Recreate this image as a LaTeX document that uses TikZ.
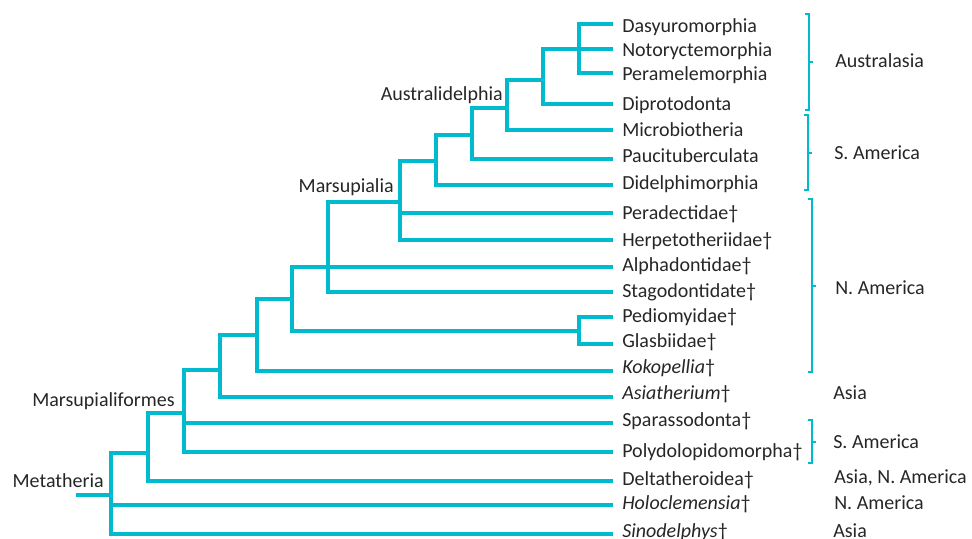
\documentclass[tikz,border=0pt]{standalone}
\usepackage{fontspec}
\setmainfont{Carlito}
\definecolor{tree}{RGB}{0,186,206}
\definecolor{txt}{RGB}{38,38,38}
\begin{document}
\begin{tikzpicture}[x=0.75pt,y=-0.75pt,
  branch/.style={draw=tree,line width=2.3pt,line join=miter},
  brk/.style={draw=tree,line width=1pt},
  leaf/.style={anchor=base west,inner sep=0pt,text=txt,font=\fontsize{15}{18}\selectfont},
  clade/.style={anchor=base east,inner sep=0pt,text=txt,font=\fontsize{15}{18}\selectfont},
  region/.style={anchor=base west,inner sep=0pt,text=txt,font=\fontsize{15}{18}\selectfont}]
\useasboundingbox (0,0) rectangle (972,539);
% leaves
\foreach \n/\ly/\by/\t in {
  dasy/24/32/Dasyuromorphia,
  noto/49/56/Notoryctemorphia,
  pera/73/80/Peramelemorphia,
  dipr/104/110/Diprotodonta,
  micr/130/136/Microbiotheria,
  pauc/159/162/Paucituberculata,
  dide/185/189/Didelphimorphia,
  perd/213/219/Peradectidae†,
  herp/240/246/Herpetotheriidae†,
  alph/267/271/Alphadontidae†,
  stag/292/297/Stagodontidate†,
  pedi/317/322/Pediomyidae†,
  glas/344/347/Glasbiidae†,
  koko/371/373/\textit{Kokopellia}†,
  asia/397/399/\textit{Asiatherium}†,
  spar/423/426/Sparassodonta†,
  poly/452/457/Polydolopidomorpha†,
  delt/481/485/Deltatheroidea†,
  holo/505/509/\textit{Holoclemensia}†,
  sino/534/537/\textit{Sinodelphys}†}{
  \coordinate (\n-tip) at (613,\ly);
  \node[leaf] (\n) at (622,\by) {\t};
}
% internal nodes
\coordinate (A) at (579,49);
\coordinate (B) at (543,80);
\coordinate (C) at (507,108);
\coordinate (D) at (472,135);
\coordinate (E) at (436,161);
\coordinate (F) at (400,202);
\coordinate (G) at (328,267);
\coordinate (H) at (292,299);
\coordinate (PG) at (579,331);
\coordinate (I) at (257,335);
\coordinate (J) at (220,370);
\coordinate (K) at (184,413);
\coordinate (L) at (148,453);
\coordinate (M) at (111,495);
\coordinate (root) at (76,495);
% branches
\draw[branch] (A) |- (dasy-tip) (A) |- (noto-tip) (A) |- (pera-tip);
\draw[branch] (B) |- (A) (B) |- (dipr-tip);
\draw[branch] (C) |- (B) (C) |- (micr-tip);
\draw[branch] (D) |- (C) (D) |- (pauc-tip);
\draw[branch] (E) |- (D) (E) |- (dide-tip);
\draw[branch] (F) |- (E) (F) |- (perd-tip) (F) |- (herp-tip);
\draw[branch] (G) |- (F) (G) |- (stag-tip);
\draw[branch] (H) |- (alph-tip) (H) |- (PG);
\draw[branch] (PG) |- (pedi-tip) (PG) |- (glas-tip);
\draw[branch] (I) |- (H) (I) |- (koko-tip);
\draw[branch] (J) |- (I) (J) |- (asia-tip);
\draw[branch] (K) |- (J) (K) |- (spar-tip) (K) |- (poly-tip);
\draw[branch] (L) |- (K) (L) |- (delt-tip);
\draw[branch] (M) |- (L) (M) |- (holo-tip) (M) |- (sino-tip);
\draw[branch] (root) -- (M);
% clade labels
\node[clade] (australidelphia) at (503,100) {Australidelphia};
\node[clade] (marsupialia) at (394,192) {Marsupialia};
\node[clade] (marsupialiformes) at (175,406) {Marsupialiformes};
\node[clade] (metatheria) at (104,487) {Metatheria};
% brackets
\draw[brk] (805,14) -- (809,14) -- (809,110) -- (805,110);
\draw[brk] (809,62) -- (813,62);
\draw[brk] (804,115) -- (808,115) -- (808,190) -- (804,190);
\draw[brk] (808,153) -- (812,153);
\draw[brk] (808,199) -- (812,199) -- (812,372) -- (808,372);
\draw[brk] (812,286) -- (816,286);
\draw[brk] (808,420) -- (812,420) -- (812,463) -- (808,463);
\draw[brk] (812,442) -- (816,442);
% region labels
\node[region] (r1) at (835,67) {Australasia};
\node[region] (r2) at (834,159) {S. America};
\node[region] (r3) at (835,294) {N. America};
\node[region] (r4) at (833,399) {Asia};
\node[region] (r5) at (833,448) {S. America};
\node[region] (r6) at (834,483) {Asia, N. America};
\node[region] (r7) at (834,509) {N. America};
\node[region] (r8) at (833,537) {Asia};
\end{tikzpicture}
\end{document}
